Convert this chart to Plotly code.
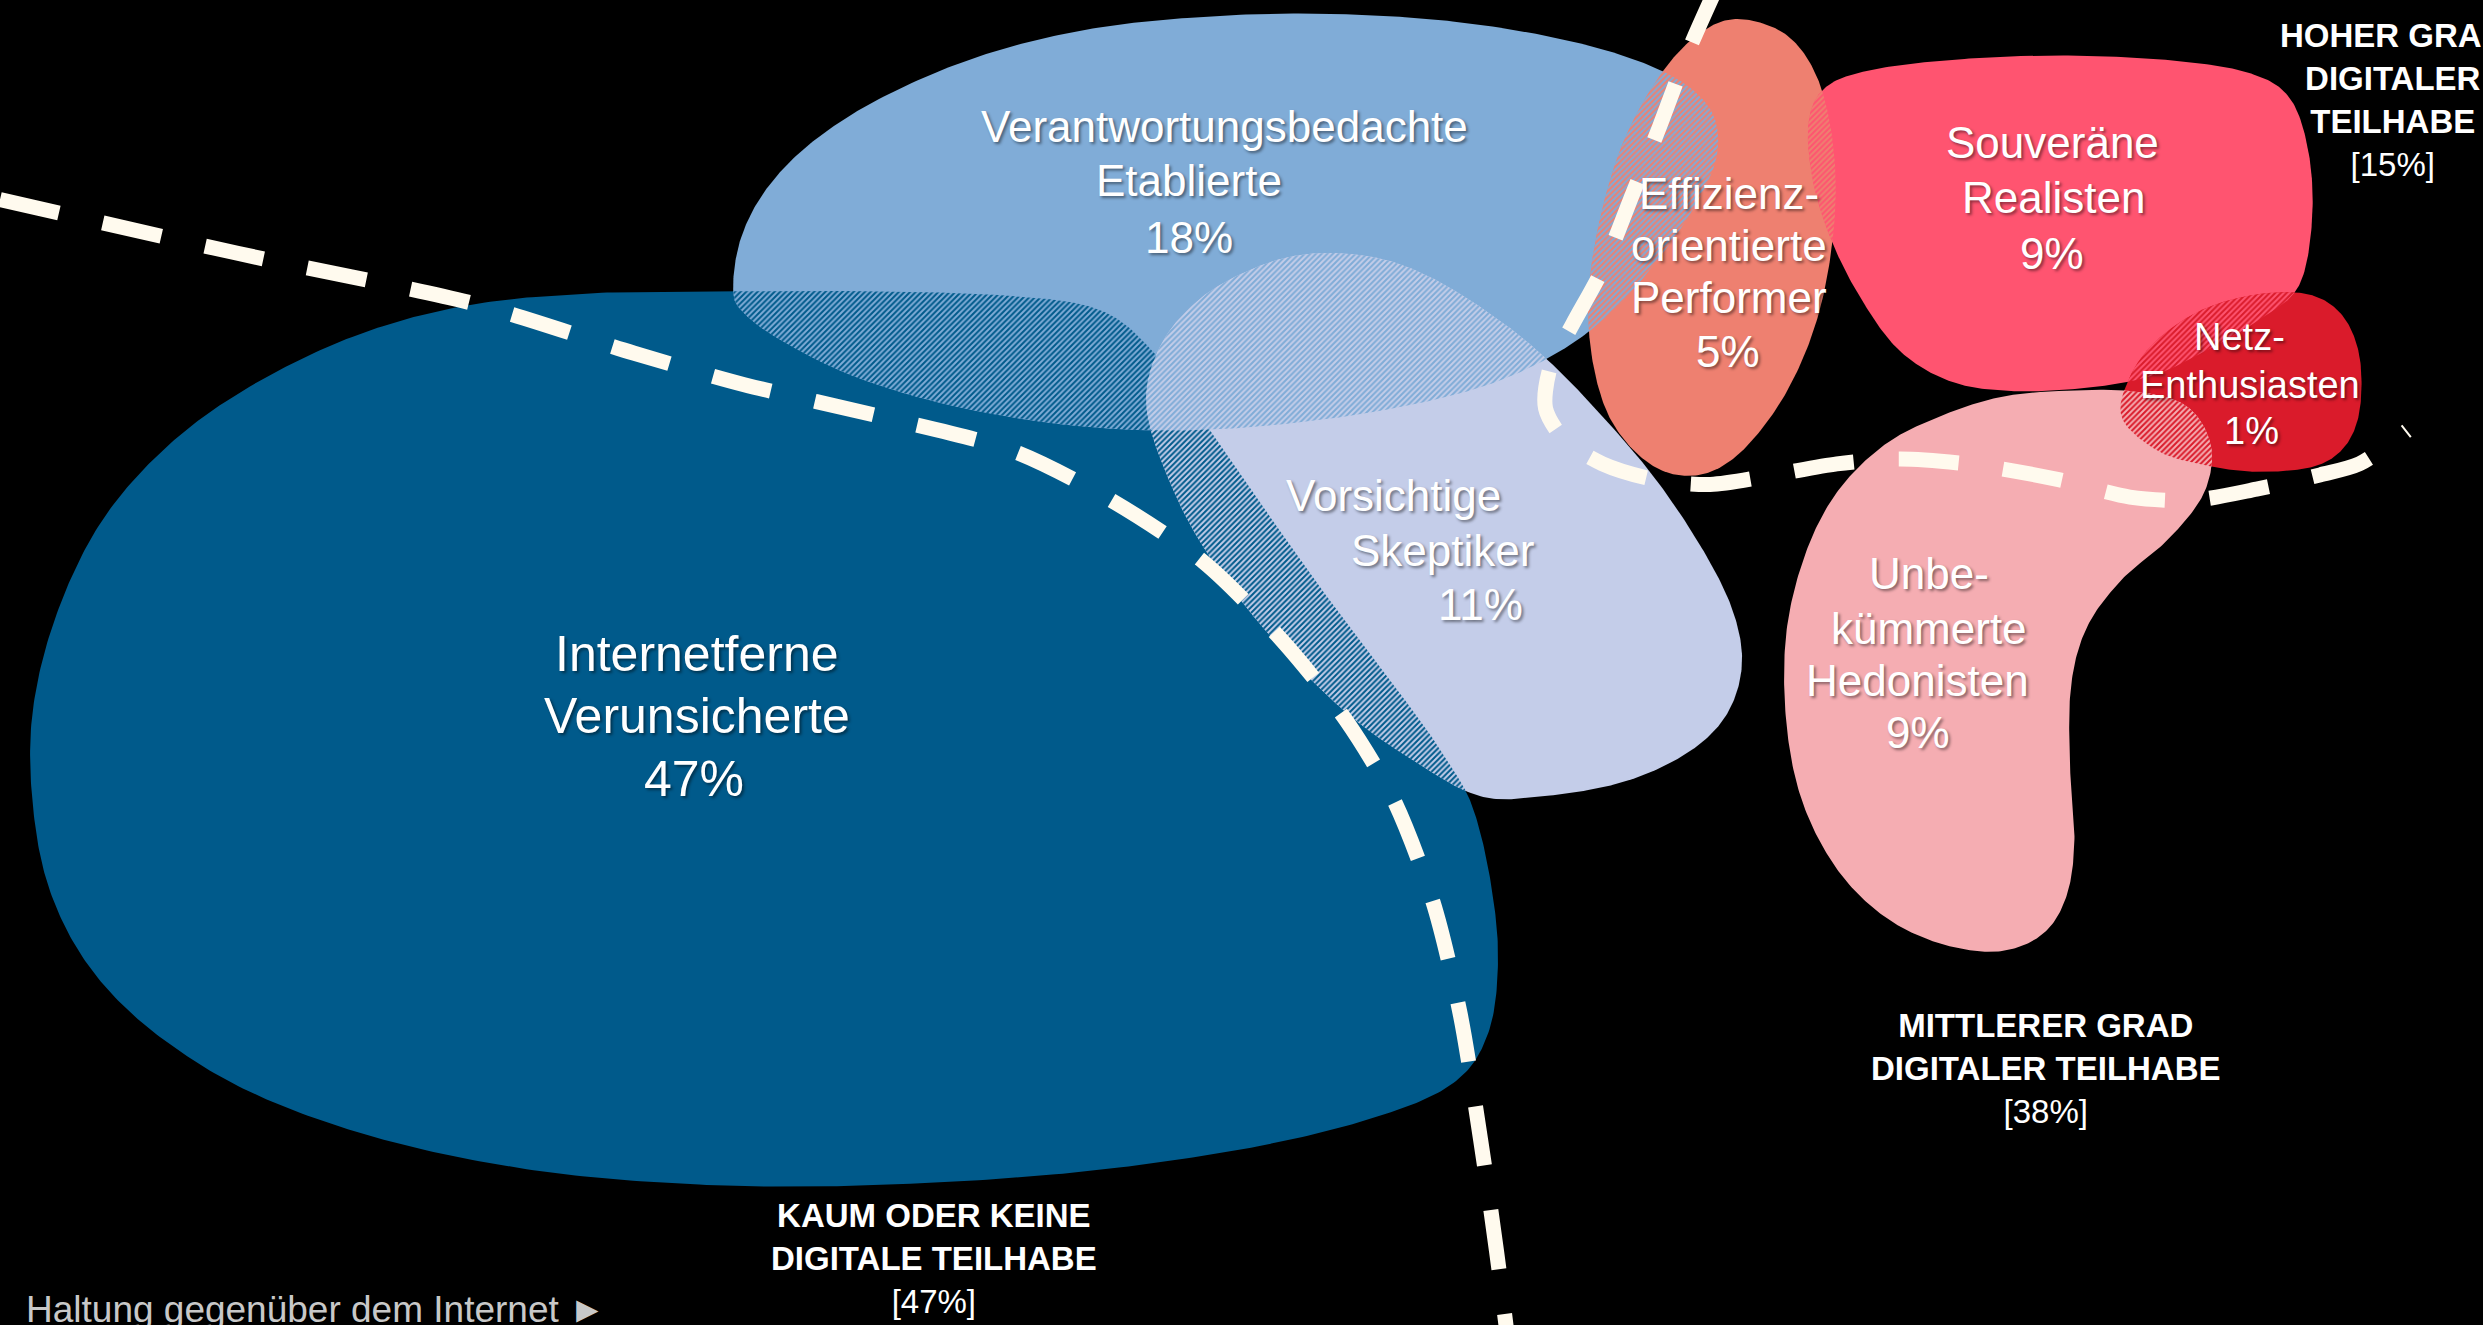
import numpy as np
import plotly.graph_objects as go

# ---------------- data ----------------
segments = ["Internetferne Verunsicherte", "Verantwortungsbedachte Etablierte", "Vorsichtige Skeptiker",
            "Effizienzorientierte Performer", "Souveräne Realisten", "Netz-Enthusiasten",
            "Unbekümmerte Hedonisten"]
segment_lines = [["Internetferne", "Verunsicherte"],
                 ["Verantwortungsbedachte", "Etablierte"],
                 ["Vorsichtige", "Skeptiker"],
                 ["Effizienz-", "orientierte", "Performer"],
                 ["Souveräne", "Realisten"],
                 ["Netz-", "Enthusiasten"],
                 ["Unbe-", "kümmerte", "Hedonisten"]]
segment_shares = [47, 18, 11, 5, 9, 1, 9]

groups = [["KAUM ODER KEINE", "DIGITALE TEILHABE"],
          ["MITTLERER GRAD", "DIGITALER TEILHABE"],
          ["HOHER GRAD", "DIGITALER", "TEILHABE"]]
group_shares = [47, 38, 15]
x_axis_title = "Haltung gegenüber dem Internet ►"

# ---------------- geometry / style (diagram plane 0..1568 x 0..837) ----------------
W, H = 1568, 837
colors = ["#005A8B", "#80ACD7", "#C4CDE9", "#EE8070", "#FF5470", "#DA1B2B", "#F5ADB2"]
outlines = [
    # Internetferne Verunsicherte
    [(380, 185), (300, 192), (230, 210), (165, 240), (110, 278), (65, 328), (35, 390), (20, 455), (22, 520),
     (35, 572), (62, 618), (105, 658), (165, 693), (250, 722), (350, 741), (460, 749), (570, 748), (685, 740),
     (790, 725), (868, 706), (918, 684), (940, 652), (946, 605), (941, 555), (930, 510), (915, 482), (893, 450),
     (855, 400), (820, 352), (785, 302), (757, 262), (728, 222), (695, 196), (640, 187), (550, 184), (460, 184)],
    # Verantwortungsbedachte Etablierte
    [(463, 183), (468, 150), (485, 118), (515, 88), (560, 60), (620, 35), (690, 18), (770, 10), (850, 9),
     (930, 15), (1000, 28), (1050, 45), (1078, 66), (1085, 92), (1075, 122), (1050, 160), (1020, 195),
     (985, 222), (940, 243), (880, 258), (810, 268), (740, 272), (670, 268), (600, 256), (540, 238),
     (495, 216), (470, 198)],
    # Vorsichtige Skeptiker
    [(724, 258), (733, 218), (760, 187), (798, 167), (832, 160), (870, 163), (905, 176), (945, 201),
     (978, 228), (1012, 263), (1045, 302), (1074, 345), (1094, 385), (1100, 420), (1090, 452), (1065, 476),
     (1025, 494), (975, 503), (935, 503), (895, 482), (850, 450), (805, 405), (768, 358), (742, 312)],
    # Effizienzorientierte Performer
    [(1097, 12), (1128, 22), (1148, 50), (1158, 95), (1158, 145), (1148, 200), (1128, 248), (1100, 285),
     (1073, 300), (1045, 295), (1020, 270), (1007, 235), (1003, 190), (1010, 140), (1025, 90), (1048, 48),
     (1072, 22)],
    # Souveräne Realisten
    [(1142, 78), (1152, 56), (1178, 45), (1230, 38), (1300, 35), (1370, 38), (1420, 46), (1446, 62),
     (1458, 97), (1460, 140), (1452, 180), (1430, 200), (1396, 220), (1360, 237), (1318, 245), (1270, 247),
     (1232, 241), (1200, 222), (1176, 190), (1157, 153), (1145, 115)],
    # Netz-Enthusiasten
    [(1340, 264), (1345, 238), (1362, 215), (1390, 196), (1425, 186), (1458, 186), (1479, 199), (1490, 225),
     (1490, 260), (1480, 283), (1460, 295), (1425, 298), (1393, 294), (1363, 285)],
    # Unbekümmerte Hedonisten
    [(1300, 247), (1345, 247), (1380, 256), (1396, 281), (1392, 311), (1370, 340), (1340, 366), (1318, 396),
     (1308, 432), (1307, 480), (1310, 530), (1305, 566), (1290, 590), (1262, 601), (1225, 596), (1190, 579),
     (1160, 549), (1138, 506), (1128, 456), (1128, 400), (1140, 350), (1160, 311), (1190, 281), (1225, 263),
     (1262, 251)],
]
# (subject, convex clipper) -> hatched overlap
overlaps = [(0, 1), (0, 2), (2, 1), (1, 3), (4, 3), (4, 5), (6, 5)]
overlap_fg = {(0, 1): 1, (0, 2): 2, (2, 1): 2, (1, 3): 3, (4, 3): 4, (4, 5): 5, (6, 5): 5}

label_xy = [[(440, 413), (440, 452), (438, 492)],
            [(773, 80), (751, 114), (751, 150)],
            [(880, 313), (911, 348), (935, 382)],
            [(1092, 122), (1092, 155), (1092, 188), (1091, 222)],
            [(1296, 90), (1297, 125), (1296, 160)],
            [(1414, 213), (1421, 243), (1422, 272)],
            [(1218, 362), (1218, 397), (1211, 430), (1211, 463)]]
label_size = [50, 44, 44, 44, 44, 38, 44]
group_xy = [(590, 795), (1292, 675), (1511, 63)]

divider_1 = [(0, 126), (150, 160), (300, 192), (400, 223), (470, 243), (560, 264), (640, 285), (700, 315),
             (760, 355), (810, 405), (850, 455), (880, 505), (905, 570), (922, 640), (935, 720), (945, 790),
             (952, 845)]
divider_2 = [(1084, -8), (1065, 35), (1048, 80), (1030, 125), (1012, 170), (993, 205), (979, 232), (976, 258),
             (988, 278), (1012, 293), (1045, 303), (1080, 306), (1120, 300), (1160, 293), (1200, 290),
             (1250, 294), (1300, 303), (1345, 314), (1385, 316), (1425, 309), (1465, 300), (1490, 293),
             (1520, 272)]


def smooth_closed(pts, n=24):
    P = np.asarray(pts, float)
    m = len(P)
    t = np.linspace(0, 1, n, endpoint=False)[:, None]
    segs = []
    for i in range(m):
        p0, p1, p2, p3 = P[(i - 1) % m], P[i], P[(i + 1) % m], P[(i + 2) % m]
        segs.append(0.5 * (2 * p1 + (-p0 + p2) * t + (2 * p0 - 5 * p1 + 4 * p2 - p3) * t ** 2
                           + (-p0 + 3 * p1 - 3 * p2 + p3) * t ** 3))
    return np.vstack(segs)


def hull(points):
    pts = sorted(map(tuple, points))
    def cross(o, a, b):
        return (a[0] - o[0]) * (b[1] - o[1]) - (a[1] - o[1]) * (b[0] - o[0])
    lower, upper = [], []
    for p in pts:
        while len(lower) >= 2 and cross(lower[-2], lower[-1], p) <= 0:
            lower.pop()
        lower.append(p)
    for p in reversed(pts):
        while len(upper) >= 2 and cross(upper[-2], upper[-1], p) <= 0:
            upper.pop()
        upper.append(p)
    return lower[:-1] + upper[:-1]


def clip_poly(subject, clipper):
    def inside(p, a, b):
        return (b[0] - a[0]) * (p[1] - a[1]) - (b[1] - a[1]) * (p[0] - a[0]) >= 0
    def inter(p, q, a, b):
        x1, y1 = p; x2, y2 = q; x3, y3 = a; x4, y4 = b
        d = (x1 - x2) * (y3 - y4) - (y1 - y2) * (x3 - x4)
        if abs(d) < 1e-12:
            return q
        tt = ((x1 - x3) * (y3 - y4) - (y1 - y3) * (x3 - x4)) / d
        return (x1 + tt * (x2 - x1), y1 + tt * (y2 - y1))
    out = [tuple(p) for p in subject]
    for i in range(len(clipper)):
        a, b = clipper[i], clipper[(i + 1) % len(clipper)]
        inp, out = out, []
        if not inp:
            break
        s = inp[-1]
        for e in inp:
            if inside(e, a, b):
                if not inside(s, a, b):
                    out.append(inter(s, e, a, b))
                out.append(e)
            elif inside(s, a, b):
                out.append(inter(s, e, a, b))
            s = e
    return out


polys = [smooth_closed(o) for o in outlines]

fig = go.Figure()
for i, poly in enumerate(polys):
    closed = np.vstack([poly, poly[:1]])
    fig.add_trace(go.Scatter(x=closed[:, 0], y=closed[:, 1], mode="lines", fill="toself",
                             fillcolor=colors[i], line=dict(width=0), hoverinfo="skip",
                             name=segments[i]))

for (s, c) in overlaps:
    inter_poly = clip_poly(polys[s], hull(polys[c]))
    if len(inter_poly) < 3:
        continue
    arr = np.array(inter_poly + [inter_poly[0]])
    fg = colors[overlap_fg[(s, c)]]
    bg = colors[s] if overlap_fg[(s, c)] == c else colors[c]
    fig.add_trace(go.Scatter(x=arr[:, 0], y=arr[:, 1], mode="lines", fill="toself", line=dict(width=0),
                             fillpattern=dict(shape="/", fgcolor=fg, bgcolor=bg, size=4, solidity=0.5,
                                              fillmode="replace"),
                             hoverinfo="skip"))

for d in (divider_1, divider_2):
    arr = np.array(d, float)
    fig.add_trace(go.Scatter(x=arr[:, 0], y=arr[:, 1], mode="lines", hoverinfo="skip",
                             line=dict(color="#FFFAEE", width=15, dash="60px,45px", shape="spline",
                                       smoothing=0.8)))

FONT = "Liberation Sans, Arial, Helvetica, sans-serif"
annotations = []
for i, lines in enumerate(segment_lines):
    texts = lines + [f"{segment_shares[i]}%"]
    for txt, (x, y) in zip(texts, label_xy[i]):
        annotations.append(dict(x=x, y=y, xref="x", yref="y", text=txt, showarrow=False,
                                xanchor="center", yanchor="middle",
                                font=dict(family=FONT, size=label_size[i], color="white",
                                          shadow="2px 2px 3px rgba(0,0,0,0.45)")))
for g, share, (x, y) in zip(groups, group_shares, group_xy):
    txt = "<br>".join(f"<b>{l}</b>" for l in g) + f"<br>[{share}%]"
    annotations.append(dict(x=x, y=y, xref="x", yref="y", text=txt, showarrow=False,
                            xanchor="center", yanchor="middle", align="center",
                            font=dict(family=FONT, size=33, color="white",
                                      shadow="1px 1px 2px rgba(0,0,0,0.6)")))
annotations.append(dict(x=15, y=827, xref="x", yref="y", text=x_axis_title, showarrow=False,
                        xanchor="left", yanchor="middle",
                        font=dict(family=FONT, size=37, color="#C8C8C8")))

fig.update_layout(
    width=2483, height=1325, margin=dict(l=0, r=0, t=0, b=0),
    paper_bgcolor="black", plot_bgcolor="black", showlegend=False,
    xaxis=dict(range=[0, W], visible=False, fixedrange=True),
    yaxis=dict(range=[H, 0], visible=False, fixedrange=True),
    annotations=annotations,
)
fig.write_html("out.html", config={"displayModeBar": False},
               post_script="document.body.style.margin='0px';"
                           "document.body.style.background='black';"
                           "document.body.style.overflow='hidden';")
